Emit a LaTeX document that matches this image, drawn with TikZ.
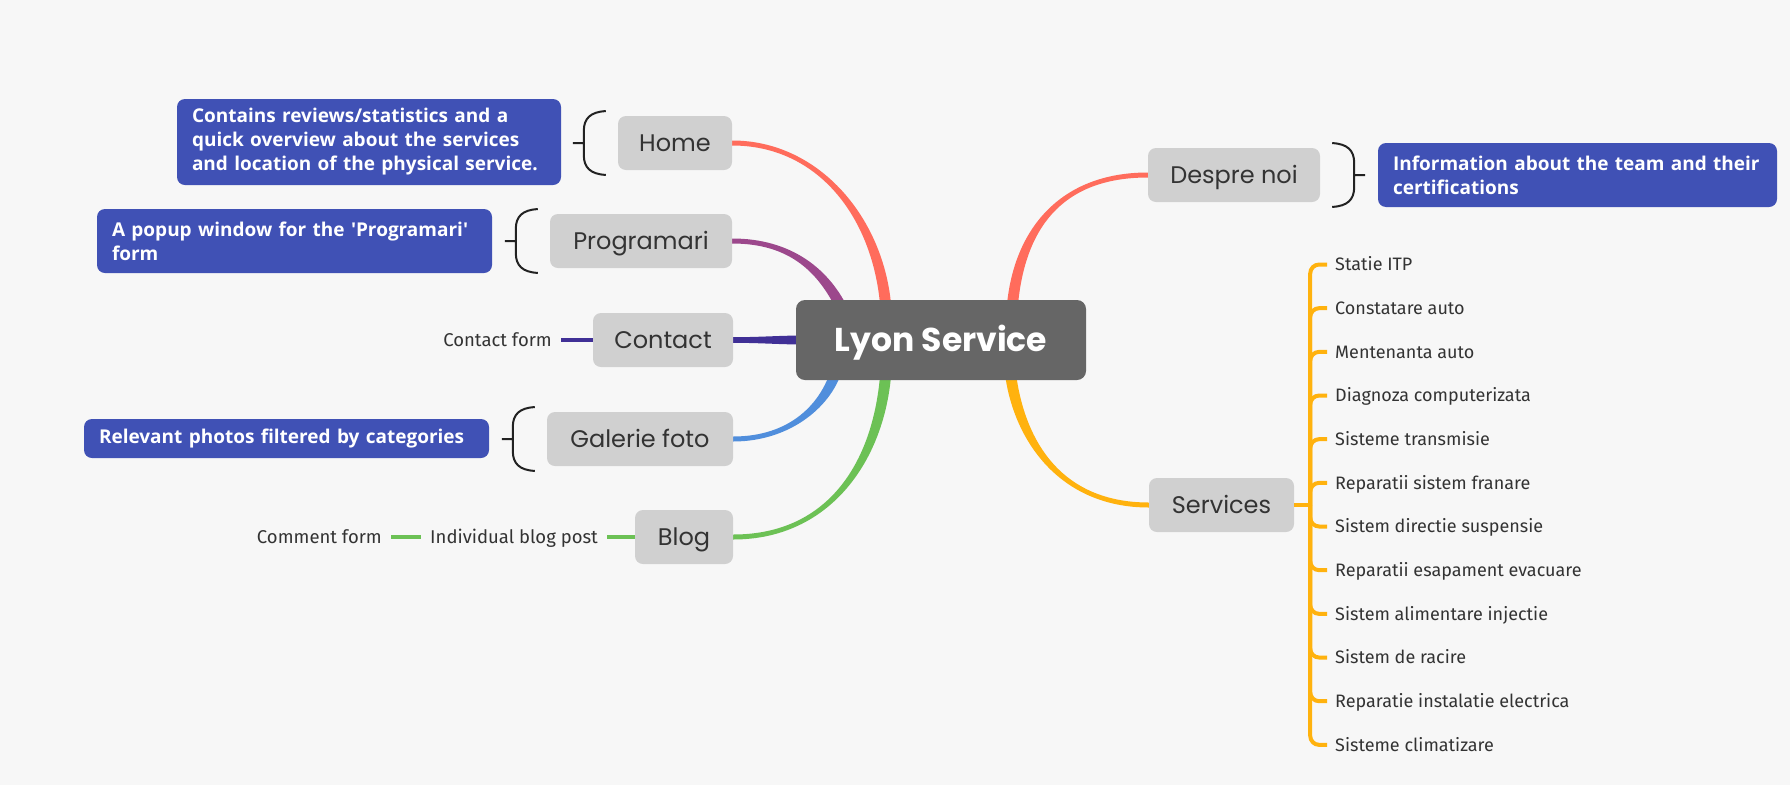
\documentclass[tikz,border=0pt]{standalone}
\usepackage{fontspec}
\setmainfont{Fira Sans}
\newfontfamily\pop{Poppins}
\newfontfamily\notefont{Open Sans}
\usetikzlibrary{calc}
\definecolor{bgc}{RGB}{247,247,247}
\definecolor{mmred}{RGB}{255,108,92}
\definecolor{mmpurple}{RGB}{156,72,140}
\definecolor{mmindigo}{RGB}{64,48,150}
\definecolor{mmblue}{RGB}{80,142,220}
\definecolor{mmgreen}{RGB}{108,193,85}
\definecolor{mmyellow}{RGB}{255,178,14}
\definecolor{notefill}{RGB}{64,81,181}
\definecolor{rootfill}{RGB}{102,102,102}
\definecolor{topicfill}{RGB}{208,208,208}
\definecolor{txt}{RGB}{51,51,51}
\definecolor{bracec}{RGB}{34,34,34}
\pgfdeclarelayer{lines}
\pgfsetlayers{lines,main}
\newcommand\mmtaper[7]{%
 \coordinate (tA) at (#2); \coordinate (tB) at (#3);
 \coordinate (tC) at (#4); \coordinate (tD) at (#5);
 \coordinate (a1) at ($(tA)!#6!90:(tB)$);
 \coordinate (a2) at ($(tA)!#6!-90:(tB)$);
 \coordinate (d1) at ($(tD)!#7!-90:(tC)$);
 \coordinate (d2) at ($(tD)!#7!90:(tC)$);
 \coordinate (b1) at ($(tB)+(a1)-(tA)$);
 \coordinate (b2) at ($(tB)+(a2)-(tA)$);
 \coordinate (c1) at ($(tC)+(d1)-(tD)$);
 \coordinate (c2) at ($(tC)+(d2)-(tD)$);
 \fill[#1] (a1) .. controls (b1) and (c1) .. (d1) -- (d2) .. controls (c2) and (b2) .. (a2) -- cycle;}
\newcommand\mmlbrace[1]{%
 \draw[bracestyle] ($(#1)+(-12,-32)$) .. controls ($(#1)+(-27,-31)$) and ($(#1)+(-34,-25)$) .. ($(#1)+(-34,-12)$) -- ($(#1)+(-34,12)$) .. controls ($(#1)+(-34,25)$) and ($(#1)+(-27,31)$) .. ($(#1)+(-12,32)$)
 ($(#1)+(-45,0)$) -- ($(#1)+(-34,0)$);}
\newcommand\mmrbrace[1]{%
 \draw[bracestyle] ($(#1)+(12,-32)$) .. controls ($(#1)+(27,-31)$) and ($(#1)+(34,-25)$) .. ($(#1)+(34,-12)$) -- ($(#1)+(34,12)$) .. controls ($(#1)+(34,25)$) and ($(#1)+(27,31)$) .. ($(#1)+(12,32)$)
 ($(#1)+(45,0)$) -- ($(#1)+(34,0)$);}
\begin{document}
\begin{tikzpicture}[x=1pt,y=-1pt,
  topic/.style={fill=topicfill, rounded corners=8pt, minimum height=54pt, inner sep=0pt, text=txt, text height=17pt, text depth=0pt, font=\pop\fontsize{24}{28}\selectfont},
  rootbox/.style={fill=rootfill, rounded corners=9pt, minimum width=290pt, minimum height=80pt, inner sep=0pt, text=white, text height=23pt, text depth=0pt, font=\pop\bfseries\fontsize{33}{38}\selectfont},
  note/.style={fill=notefill, rounded corners=8pt, text=white, align=left, inner xsep=15pt, inner ysep=0pt, font=\notefont\bfseries\fontsize{19}{24}\selectfont},
  small/.style={text=txt, inner xsep=9pt, inner ysep=2pt, text height=13pt, text depth=0pt, font=\fontsize{18.5}{22}\selectfont},
  item/.style={text=txt, inner xsep=8pt, inner ysep=2pt, text height=12.5pt, text depth=0pt, font=\fontsize{18}{22}\selectfont},
  bracestyle/.style={draw=bracec, line width=2pt},
  sub/.style={line width=4pt},
]
\begin{pgfonlayer}{lines}
\fill[bgc] (0,0) rectangle (1790,785);
\end{pgfonlayer}
\useasboundingbox (0,0) rectangle (1790,785);

% topics
\node[topic, minimum width=114pt] (home) at (675,143) {Home};
\node[topic, minimum width=182pt] (prog) at (641,241) {Programari};
\node[topic, minimum width=140pt] (contact) at (663,340) {Contact};
\node[topic, minimum width=186pt] (gal) at (640,439) {Galerie foto};
\node[topic, minimum width=98pt] (blog) at (684,537) {Blog};
\node[topic, minimum width=172pt] (despre) at (1234,175) {Despre noi};
\node[topic, minimum width=145pt] (services) at (1221.5,505) {Services};
\node[rootbox] (root) at (941,340) {Lyon Service};

% main branches
\begin{pgfonlayer}{lines}
\mmtaper{mmred}{home.east}{820,143}{880,220}{$(root.center)+(-55,-30)$}{2.5pt}{5.5pt}
\mmtaper{mmpurple}{prog.east}{790,241}{825,270}{$(root.center)+(-96,-25)$}{2.5pt}{5.5pt}
\mmtaper{mmindigo}{contact.east}{760,340}{780,340}{$(root.west)+(8,0)$}{2.8pt}{4.5pt}
\mmtaper{mmblue}{gal.east}{790,439}{828,405}{$(root.center)+(-103,25)$}{2.5pt}{5.5pt}
\mmtaper{mmgreen}{blog.east}{830,537}{880,460}{$(root.center)+(-55,30)$}{2.5pt}{5.5pt}
\mmtaper{mmred}{despre.west}{1060,175}{1018,230}{$(root.center)+(71,-30)$}{2.5pt}{5.5pt}
\mmtaper{mmyellow}{services.west}{1060,505}{1018,440}{$(root.center)+(69,30)$}{2.5pt}{5.5pt}
\end{pgfonlayer}

% notes
\node[note, text width=354pt, minimum height=86pt] (nhome) at (369,142) {Contains reviews/statistics and a\\quick overview about the services\\and location of the physical service.};
\node[note, text width=365pt, minimum height=64pt] (nprog) at (294.5,241) {A popup window for the \textquotesingle Programari\textquotesingle\\form};
\node[note, text width=375pt, minimum height=39pt] (ngal) at (286.5,438.5) {Relevant photos filtered by categories};
\node[note, text width=369pt, minimum height=64pt] (ndespre) at (1577.5,175) {Information about the team and their\\certifications};

% braces
\mmlbrace{home.west}
\mmlbrace{prog.west}
\mmlbrace{gal.west}
\mmrbrace{despre.east}

% small subtopics
\node[small, anchor=east] (cform) at (561,340) {Contact form};
\draw[sub, draw=mmindigo] (cform.east) -- (contact.west);
\node[small, anchor=west] (indiv) at (421,537) {Individual blog post};
\node[small, anchor=east] (comment) at (391,537) {Comment form};
\draw[sub, draw=mmgreen] (indiv.east) -- (blog.west);
\draw[sub, draw=mmgreen] (comment.east) -- (indiv.west);

% services list
\coordinate (svj) at ($(services.east)+(16,0)$);
\draw[sub, draw=mmyellow] (services.east) -- (svj);
\foreach \t [count=\i from 0] in {Statie ITP, Constatare auto, Mentenanta auto, Diagnoza computerizata, Sisteme transmisie, Reparatii sistem franare, Sistem directie suspensie, Reparatii esapament evacuare, Sistem alimentare injectie, Sistem de racire, Reparatie instalatie electrica, Sisteme climatizare}{
  \pgfmathsetmacro\yy{264.5+43.67*\i}
  \node[item, anchor=west] (s\i) at (1327,\yy) {\t};
  \draw[sub, draw=mmyellow, rounded corners=9pt] (svj) |- (s\i.west);
}
\end{tikzpicture}
\end{document}
